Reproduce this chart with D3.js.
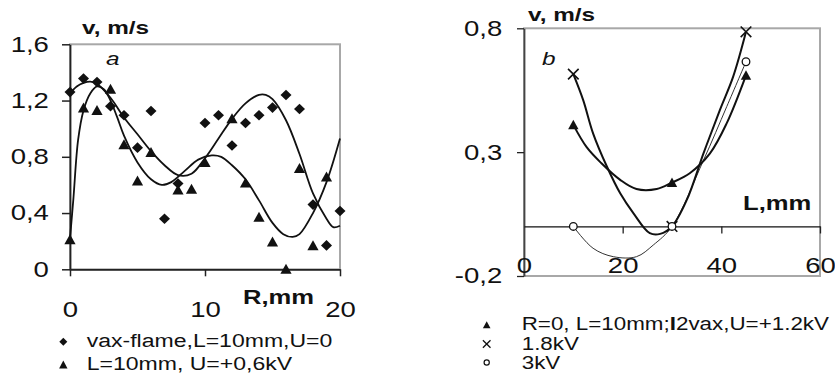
<!DOCTYPE html>
<html>
<head>
<meta charset="utf-8">
<script src="https://cdn.jsdelivr.net/npm/d3@7"></script>
<style>
  body { margin: 0; background: #fff; }
  svg { display: block; font-family: "Liberation Sans", Arial, sans-serif; }
  .tick text { font-size: 21.5px; fill: #111; }
</style>
</head>
<body>
<svg width="835" height="376"></svg>
<script>
// ---- panel a: v(R) ----
const rDiamond = [0, 1, 2, 3, 4, 5, 6, 7, 8, 10, 11, 12, 13, 14, 15, 16, 17, 18, 19, 20];
const vDiamond = [1.26, 1.356, 1.332, 1.16, 1.095, 0.865, 1.126, 0.36, 0.61, 1.04, 1.095, 0.88, 1.04, 1.095, 1.15, 1.24, 1.14, 0.46, 0.17, 0.415];
const rTriangle = [0, 1, 2, 3, 4, 5, 6, 8, 9, 10, 12, 13, 14, 15, 16, 17, 18, 19];
const vTriangle = [0.21, 1.147, 1.13, 1.28, 0.886, 0.628, 0.83, 0.564, 0.569, 0.76, 1.07, 0.614, 0.37, 0.194, 0, 0.716, 0.168, 0.656];
// trend curves
const rTrendA = [0, 0.5, 1, 1.5, 2, 3, 4, 5, 6, 7, 8, 9, 10, 11, 12, 13, 14, 14.5, 15, 16, 17, 18, 19, 19.5, 20];
const vTrendA = [1.25, 1.3, 1.325, 1.335, 1.32, 1.22, 1.08, 0.96, 0.84, 0.74, 0.67, 0.68, 0.79, 0.93, 1.07, 1.18, 1.24, 1.24, 1.21, 1.06, 0.82, 0.54, 0.36, 0.3, 0.31];
const rTrendB = [0, 0.25, 0.6, 1, 1.5, 2, 2.5, 3, 3.5, 4, 5, 6, 6.8, 7.5, 8.5, 9.5, 10.5, 11.2, 12, 13, 14, 15, 15.8, 16.5, 17, 18, 19, 20];
const vTrendB = [0.22, 0.5, 0.92, 1.13, 1.25, 1.3, 1.28, 1.2, 1.08, 0.95, 0.76, 0.64, 0.6, 0.62, 0.7, 0.78, 0.81, 0.8, 0.74, 0.64, 0.49, 0.33, 0.25, 0.23, 0.25, 0.4, 0.62, 0.93];
const ticksA_x = [0, 10, 20];
const ticksA_y = [0, 0.4, 0.8, 1.2, 1.6];
const legendA = ["vax-flame,L=10mm,U=0", "L=10mm, U=+0,6kV"];

// ---- panel b: v(L) ----
const lPoints = [10, 30, 45];
const v12kV = [0.41, 0.177, 0.61];
const v18kV = [0.615, 0, 0.786];
const v3kV = [0, 0, 0.665];
const lCurve12 = [10, 12.7, 15.7, 19.5, 22.8, 26.9, 30, 33.6, 37.7, 41.1, 45];
const vCurve12 = [0.41, 0.32, 0.255, 0.188, 0.151, 0.151, 0.177, 0.215, 0.295, 0.417, 0.61];
const lCurve18 = [10, 12, 14, 16.8, 19.5, 22.2, 25.5, 27.6, 30, 33, 36.4, 39.7, 42.4, 45];
const vCurve18 = [0.615, 0.51, 0.376, 0.242, 0.134, 0.053, -0.027, -0.03, 0, 0.107, 0.296, 0.47, 0.605, 0.786];
const lCurve3 = [10, 14, 18.1, 22.8, 26.2, 30, 36.4, 41.1, 45];
const vCurve3 = [0, -0.088, -0.122, -0.122, -0.075, 0, 0.268, 0.484, 0.665];
const ticksB_x = [0, 20, 40, 60];
const ticksB_y = [-0.2, 0.3, 0.8];
const legendB = ["R=0, L=10mm;", "1.8kV", "3kV"];

const SX = 1.28; // picture text is wide
const svg = d3.select("svg");

const zip = (xs, ys) => xs.map((x, i) => [x, ys[i]]);
const comma = d => String(d).replace(".", ",");

function stretchText(g, x, y, str, size, opts = {}) {
  return g.append("text")
    .attr("transform", `translate(${x},${y}) scale(${SX},1)`)
    .attr("text-anchor", opts.anchor || "start")
    .attr("font-size", size)
    .attr("font-weight", opts.weight || "normal")
    .attr("font-style", opts.style || "normal")
    .attr("fill", "#111")
    .text(str);
}

const diamond = (w, h) => `M0,${-h}L${w},0L0,${h}L${-w},0Z`;
const triangle = (w, h) => `M0,${-h * 0.55}L${w},${h * 0.45}L${-w},${h * 0.45}Z`;
const cross = s => `M${-s},${-s}L${s},${s}M${-s},${s}L${s},${-s}`;

// ================= panel a =================
const xA = d3.scaleLinear().domain([0, 20]).range([70, 340]);
const yA = d3.scaleLinear().domain([0, 1.6]).range([269.3, 44.3]);
const gA = svg.append("g");

gA.append("rect")
  .attr("x", xA(0)).attr("y", yA(1.6))
  .attr("width", xA(20) - xA(0)).attr("height", yA(0) - yA(1.6))
  .attr("fill", "none").attr("stroke", "#a8a8a8").attr("stroke-width", 2);

const axA_y = gA.append("g").attr("transform", `translate(${xA(0)},0)`)
  .call(d3.axisLeft(yA).tickValues(ticksA_y).tickFormat(comma).tickSize(8).tickPadding(8.5).tickSizeOuter(0));
const axA_x = gA.append("g").attr("transform", `translate(0,${yA(0)})`)
  .call(d3.axisBottom(xA).tickValues(ticksA_x).tickFormat(d3.format("d")).tickSize(7).tickPadding(25.5).tickSizeOuter(0));
[axA_y, axA_x].forEach(ax => {
  ax.select(".domain").attr("stroke", "#222").attr("stroke-width", 1.8);
  ax.selectAll(".tick line").attr("stroke", "#222").attr("stroke-width", 1.5);
  ax.selectAll(".tick text").attr("transform", `scale(${SX},1)`).attr("font-family", "Liberation Sans, Arial, sans-serif");
});

const lineA = d3.line().x(d => xA(d[0])).y(d => yA(d[1])).curve(d3.curveCatmullRom.alpha(0.5));
gA.append("path").attr("d", lineA(zip(rTrendA, vTrendA)))
  .attr("fill", "none").attr("stroke", "#111").attr("stroke-width", 1.8);
gA.append("path").attr("d", lineA(zip(rTrendB, vTrendB)))
  .attr("fill", "none").attr("stroke", "#111").attr("stroke-width", 1.8);

gA.append("g").selectAll("path").data(zip(rDiamond, vDiamond)).join("path")
  .attr("transform", d => `translate(${xA(d[0])},${yA(d[1])})`)
  .attr("d", diamond(5.5, 5.3)).attr("fill", "#111");
gA.append("g").selectAll("path").data(zip(rTriangle, vTriangle)).join("path")
  .attr("transform", d => `translate(${xA(d[0])},${yA(d[1])})`)
  .attr("d", triangle(5.6, 10)).attr("fill", "#111");

stretchText(gA, 82, 34, "v, m/s", 19, {weight: "bold"});
stretchText(gA, 106, 65, "a", 19, {style: "italic"});
stretchText(gA, 243, 304, "R,mm", 20, {weight: "bold"});

// legend a
const legA = gA.append("g");
legA.append("path").attr("transform", "translate(63.3,341.7)").attr("d", diamond(4, 4)).attr("fill", "#111");
legA.append("path").attr("transform", "translate(63.3,365)").attr("d", triangle(4.2, 8)).attr("fill", "#111");
legendA.forEach((t, i) => stretchText(legA, 86.7, 347 + i * 23, t, 18));

// ================= panel b =================
const xB = d3.scaleLinear().domain([0, 60]).range([524, 820]);
const yB = d3.scaleLinear().domain([-0.2, 0.8]).range([276, 28.3]);
const gB = svg.append("g");

gB.append("rect")
  .attr("x", xB(0)).attr("y", yB(0.8))
  .attr("width", xB(60) - xB(0)).attr("height", yB(-0.2) - yB(0.8))
  .attr("fill", "none").attr("stroke", "#a8a8a8").attr("stroke-width", 2);

const axB_y = gB.append("g").attr("transform", `translate(${xB(0)},0)`)
  .call(d3.axisLeft(yB).tickValues(ticksB_y).tickFormat(comma).tickSize(7).tickPadding(10).tickSizeOuter(0));
const axB_x = gB.append("g").attr("transform", `translate(0,${yB(0)})`)
  .call(d3.axisBottom(xB).tickValues(ticksB_x).tickFormat(d3.format("d")).tickSize(7).tickPadding(24.5).tickSizeOuter(0));
axB_y.select(".domain").attr("stroke", "#444").attr("stroke-width", 1.8);
axB_x.select(".domain").attr("stroke", "#111").attr("stroke-width", 1.2);
[axB_y, axB_x].forEach(ax => {
  ax.selectAll(".tick line").attr("stroke", "#222").attr("stroke-width", 1.3);
  ax.selectAll(".tick text").attr("transform", `scale(${SX},1)`).attr("font-family", "Liberation Sans, Arial, sans-serif");
});
axB_x.selectAll(".tick").filter(d => d === 0).select("line").remove();

const lineB = d3.line().x(d => xB(d[0])).y(d => yB(d[1])).curve(d3.curveCatmullRom.alpha(0.5));
gB.append("path").attr("d", lineB(zip(lCurve3, vCurve3)))
  .attr("fill", "none").attr("stroke", "#333").attr("stroke-width", 1);
gB.append("path").attr("d", lineB(zip(lCurve12, vCurve12)))
  .attr("fill", "none").attr("stroke", "#111").attr("stroke-width", 2);
gB.append("path").attr("d", lineB(zip(lCurve18, vCurve18)))
  .attr("fill", "none").attr("stroke", "#111").attr("stroke-width", 2);

gB.append("g").selectAll("path").data(zip(lPoints, v12kV)).join("path")
  .attr("transform", d => `translate(${xB(d[0])},${yB(d[1])})`)
  .attr("d", triangle(5.2, 9.5)).attr("fill", "#111");
gB.append("g").selectAll("path").data(zip(lPoints, v18kV)).join("path")
  .attr("transform", d => `translate(${xB(d[0])},${yB(d[1])})`)
  .attr("d", cross(5.3)).attr("fill", "none").attr("stroke", "#111").attr("stroke-width", 1.6);
gB.append("g").selectAll("circle").data(zip(lPoints, v3kV)).join("circle")
  .attr("cx", d => xB(d[0])).attr("cy", d => yB(d[1])).attr("r", 3.8)
  .attr("fill", "#fff").attr("stroke", "#111").attr("stroke-width", 1.3);

stretchText(gB, 528, 21, "v, m/s", 19, {weight: "bold"});
stretchText(gB, 542, 65, "b", 19, {style: "italic"});
stretchText(gB, 743, 210, "L,mm", 20, {weight: "bold"});

// legend b
const legB = gB.append("g");
legB.append("path").attr("transform", "translate(486.7,325)").attr("d", triangle(3.8, 7)).attr("fill", "#111");
legB.append("path").attr("transform", "translate(486.7,344)").attr("d", cross(3.8))
  .attr("fill", "none").attr("stroke", "#111").attr("stroke-width", 1.3);
legB.append("circle").attr("cx", 486.7).attr("cy", 362.5).attr("r", 2.6)
  .attr("fill", "#fff").attr("stroke", "#111").attr("stroke-width", 1.2);
const first = stretchText(legB, 521.7, 330, legendB[0], 17.5);
first.append("tspan").attr("font-weight", "bold").text("I");
first.append("tspan").text("2vax,U=+1.2kV");
stretchText(legB, 521.7, 350, legendB[1], 17.5);
stretchText(legB, 521.7, 369, legendB[2], 17.5);
</script>
</body>
</html>
